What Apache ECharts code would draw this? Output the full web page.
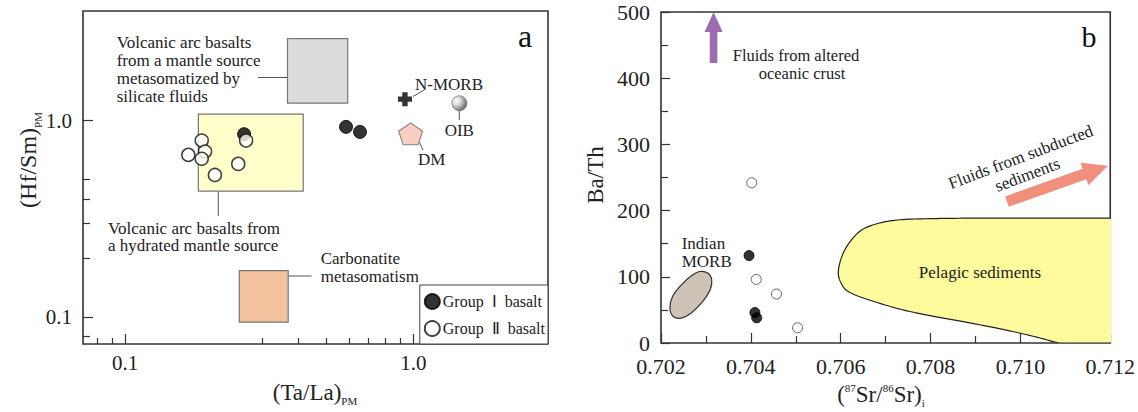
<!DOCTYPE html>
<html><head><meta charset="utf-8">
<script src="https://cdn.jsdelivr.net/npm/echarts@6/dist/echarts.min.js"></script>
<style>html,body{margin:0;padding:0;background:#fff}#c{width:1138px;height:412px}</style>
</head><body><div id="c"></div>
<script>
const FONT = '"Liberation Serif", serif';
// ---------- Panel a data ----------
const groupI_a = [[0.2588,0.853],[0.584,0.929],[0.653,0.876]];
const groupII_a = [[0.1845,0.791],[0.1895,0.696],[0.1658,0.669],[0.1845,0.639],[0.205,0.529],[0.247,0.602],[0.263,0.791]];
const nmorb = [[0.935,1.285]];
const oib = [[1.444,1.226]];
const dm = [[0.978,0.856]];
const boxSilicate = [0.366,0.592,1.226,2.61];
const boxHydrated = [0.1796,0.415,0.4375,1.078];
const boxCarbonatite = [0.249,0.368,0.0943,0.1726];
const xRangeA = [0.0715, 2.93];
const yRangeA = [0.073, 3.61];
const xMajorA = [0.1, 1];
const xMinorA = [0.08,0.09,0.3,0.4,0.5,0.6,0.7,0.8,0.9];
const yMajorA = [0.1, 1];
const yMinorA = [0.08,0.2,0.3,0.4,0.5];
// ---------- Panel b data ----------
const groupI_b = [[0.70396,132],[0.70409,46],[0.70413,38]];
const groupII_b = [[0.70402,242],[0.70412,96],[0.70457,74],[0.70504,23]];
const indianMorb = [[0.702858,108.0],[0.703041,105.6],[0.703129,95.5],[0.703094,80.4],[0.702931,62.7],[0.702675,45.2],[0.702455,37.7],[0.702271,40.1],[0.702198,52.8],[0.702257,70.3],[0.702455,87.9],[0.702675,101.5]];
const pelagicCurve = [[0.712,188.7],[0.7095,188.7],[0.70814,188.0],[0.70726,185.8],[0.70671,178.2],[0.70638,166.1],[0.70609,140.5],[0.70595,110.6],[0.70601,90.5],[0.70623,75.4],[0.70697,57.8],[0.70770,45.2],[0.70909,27.6],[0.71005,14.0],[0.71085,0]];
const pelagicCorners = [[0.7125,0],[0.7125,188.7]];
const arrowAOC = [[0.70317,423],[0.70317,500]];
const arrowSed = [[0.7097,213.6],[0.71195,267.9]];
const xRangeB = [0.702, 0.712];
const yRangeB = [0, 500];

const GROUP1 = 'Group\u2002Ⅰ\u2002basalt', GROUP2 = 'Group\u2002Ⅱ\u2002basalt';

function catmull(pts, n) {
  const out = [];
  for (let i = 0; i < pts.length - 1; i++) {
    const p0 = pts[Math.max(i - 1, 0)], p1 = pts[i], p2 = pts[i + 1], p3 = pts[Math.min(i + 2, pts.length - 1)];
    for (let k = 0; k < n; k++) {
      const t = k / n, t2 = t * t, t3 = t2 * t;
      out.push([0, 1].map(j => 0.5 * ((2 * p1[j]) + (-p0[j] + p2[j]) * t + (2 * p0[j] - 5 * p1[j] + 4 * p2[j] - p3[j]) * t2 + (-p0[j] + 3 * p1[j] - 3 * p2[j] + p3[j]) * t3)));
    }
  }
  out.push(pts[pts.length - 1]);
  return out;
}
function arrowPts(a, b, sh, hh, hl) {
  const dx = b[0] - a[0], dy = b[1] - a[1], L = Math.hypot(dx, dy);
  const ux = dx / L, uy = dy / L, nx = -uy, ny = ux;
  const bx = b[0] - ux * hl, by = b[1] - uy * hl;
  return [[a[0] + nx * sh, a[1] + ny * sh], [bx + nx * sh, by + ny * sh], [bx + nx * hh, by + ny * hh], b,
          [bx - nx * hh, by - ny * hh], [bx - nx * sh, by - ny * sh], [a[0] - nx * sh, a[1] - ny * sh]];
}
function rectSeries(box, fill) {
  return { type: 'custom', xAxisIndex: 0, yAxisIndex: 0, data: [box], silent: true, z: 1,
    encode: { x: [0, 1], y: [2, 3] },
    renderItem: (p, api) => {
      const a = api.coord([api.value(0), api.value(3)]), b = api.coord([api.value(1), api.value(2)]);
      return { type: 'rect', shape: { x: a[0], y: a[1], width: b[0] - a[0], height: b[1] - a[1] },
        style: { fill: fill, stroke: '#777', lineWidth: 1.2 } };
    } };
}
function txt(x, y, text, size, extra) {
  return Object.assign({ type: 'text', x: x, y: y, z: 100,
    style: Object.assign({ text: text, fontFamily: FONT, fontSize: size, fill: '#222', align: 'center', verticalAlign: 'middle' }, extra || {}) });
}
function ln(x1, y1, x2, y2) {
  return { type: 'line', z: 100, shape: { x1: x1, y1: y1, x2: x2, y2: y2 }, style: { stroke: '#555', lineWidth: 1 } };
}

const chart = echarts.init(document.getElementById('c'), null, { renderer: 'svg' });
const labelStyle = { fontFamily: FONT, color: '#222' };
const logCommon = { type: 'log', logBase: 10, axisLine: { show: false }, splitLine: { show: false } };
const tickLine = { color: '#333', width: 1.2 };
const subRich = { s: { fontFamily: FONT, fontSize: 11, fill: '#222', verticalAlign: 'bottom', padding: [0, 0, -3, 0] } };

const option = {
  animation: false,
  backgroundColor: '#fff',
  grid: [
    { left: 83, top: 11, width: 465, height: 333, show: true, borderColor: '#333', borderWidth: 1.6 },
    { left: 661, top: 12, width: 455, height: 331, show: true, borderColor: '#333', borderWidth: 1.6 }
  ],
  xAxis: [
    Object.assign({}, logCommon, { gridIndex: 0, position: 'bottom', min: xRangeA[0], max: xRangeA[1],
      axisTick: { inside: true, length: 10, customValues: xMajorA, lineStyle: tickLine },
      axisLabel: Object.assign({ fontSize: 21, margin: 8, customValues: xMajorA, formatter: v => v > 0.5 ? '1.0' : '0.1' }, labelStyle) }),
    Object.assign({}, logCommon, { gridIndex: 0, position: 'bottom', min: xRangeA[0], max: xRangeA[1],
      axisTick: { inside: true, length: 6, customValues: xMinorA, lineStyle: tickLine },
      axisLabel: { show: false } }),
    { type: 'value', gridIndex: 1, min: xRangeB[0], max: xRangeB[1], interval: 0.002,
      axisLine: { show: false }, splitLine: { show: false },
      axisTick: { inside: true, length: 10, lineStyle: tickLine },
      minorTick: { show: true, splitNumber: 2, length: 7, lineStyle: tickLine },
      axisLabel: Object.assign({ fontSize: 22, lineHeight: 20, margin: 13, formatter: v => v.toFixed(3) }, labelStyle) }
  ],
  yAxis: [
    Object.assign({}, logCommon, { gridIndex: 0, position: 'left', min: yRangeA[0], max: yRangeA[1],
      axisTick: { inside: true, length: 10, customValues: yMajorA, lineStyle: tickLine },
      axisLabel: Object.assign({ fontSize: 21, margin: 11, customValues: yMajorA, formatter: v => v > 0.5 ? '1.0' : '0.1' }, labelStyle) }),
    Object.assign({}, logCommon, { gridIndex: 0, position: 'left', min: yRangeA[0], max: yRangeA[1],
      axisTick: { inside: true, length: 7, customValues: yMinorA, lineStyle: tickLine },
      axisLabel: { show: false } }),
    { type: 'value', gridIndex: 1, min: yRangeB[0], max: yRangeB[1], interval: 100,
      axisLine: { show: false }, splitLine: { show: false },
      axisTick: { inside: true, length: 9, lineStyle: tickLine },
      minorTick: { show: true, splitNumber: 2, length: 7, lineStyle: tickLine },
      axisLabel: Object.assign({ fontSize: 22, lineHeight: 20, margin: 11 }, labelStyle) }
  ],
  legend: {
    data: [GROUP1, GROUP2], orient: 'vertical', right: 590, bottom: 68,
    backgroundColor: '#fff', borderColor: '#444', borderWidth: 1,
    padding: [8, 3, 7, 4], itemGap: 10, itemWidth: 15, itemHeight: 15,
    textStyle: { fontFamily: FONT, fontSize: 16, color: '#222', padding: [0, 0, 0, -2] },
    selectedMode: false
  },
  series: [
    rectSeries(boxSilicate, '#dcdcdc'),
    rectSeries(boxHydrated, '#ffffcc'),
    rectSeries(boxCarbonatite, '#f3c29e'),
    { name: GROUP1, type: 'scatter', xAxisIndex: 0, yAxisIndex: 0, data: groupI_a, symbol: 'circle', symbolSize: 13, z: 3,
      itemStyle: { color: '#000', borderColor: '#000', borderWidth: 1 } },
    { name: GROUP2, type: 'scatter', xAxisIndex: 0, yAxisIndex: 0, data: groupII_a, symbol: 'circle', symbolSize: 13, z: 4,
      itemStyle: { color: '#fff', borderColor: '#111', borderWidth: 1.5 } },
    { type: 'scatter', xAxisIndex: 0, yAxisIndex: 0, data: nmorb, symbol: 'path://M4,0H9V4H13V9H9V13H4V9H0V4H4Z', symbolSize: 14, z: 4,
      itemStyle: { color: '#000' } },
    { type: 'scatter', xAxisIndex: 0, yAxisIndex: 0, data: oib, symbol: 'circle', symbolSize: 15, z: 4,
      itemStyle: { color: new echarts.graphic.RadialGradient(0.3, 0.35, 0.8, [{ offset: 0, color: '#ffffff' }, { offset: 0.35, color: '#d0d0d0' }, { offset: 1, color: '#2a2a2a' }]), borderColor: '#666', borderWidth: 0.8 } },
    { type: 'scatter', xAxisIndex: 0, yAxisIndex: 0, data: dm, symbol: 'path://M50,0L97.55,34.55L79.39,90.45L20.61,90.45L2.45,34.55Z', symbolSize: [24, 22], z: 4,
      itemStyle: { color: '#f6c3b3', borderColor: '#666', borderWidth: 1 } },
    // panel b
    { type: 'custom', xAxisIndex: 2, yAxisIndex: 2, data: [0], silent: true, z: 1, clip: true,
      renderItem: (p, api) => {
        const curve = catmull(pelagicCurve.map(d => api.coord(d)), 12);
        const pts = curve.concat(pelagicCorners.map(d => api.coord(d)));
        return { type: 'polygon', shape: { points: pts }, style: { fill: '#fefb9c', stroke: '#222', lineWidth: 1.2 } };
      } },
    { type: 'custom', xAxisIndex: 2, yAxisIndex: 2, data: [0], silent: true, z: 1,
      renderItem: (p, api) => ({ type: 'polygon', shape: { points: indianMorb.map(d => api.coord(d)), smooth: 0.4 },
        style: { fill: '#cdc3b6', stroke: '#333', lineWidth: 1.2 } }) },
    { type: 'custom', xAxisIndex: 2, yAxisIndex: 2, data: [0], silent: true, z: 2,
      renderItem: (p, api) => ({ type: 'polygon', shape: { points: arrowPts(api.coord(arrowAOC[0]), api.coord(arrowAOC[1]), 3.8, 9, 20) },
        style: { fill: '#9d6bb0' } }) },
    { type: 'custom', xAxisIndex: 2, yAxisIndex: 2, data: [0], silent: true, z: 2,
      renderItem: (p, api) => ({ type: 'polygon', shape: { points: arrowPts(api.coord(arrowSed[0]), api.coord(arrowSed[1]), 5.5, 12, 25) },
        style: { fill: '#f08f7c' } }) },
    { name: GROUP1, type: 'scatter', xAxisIndex: 2, yAxisIndex: 2, data: groupI_b, symbol: 'circle', symbolSize: 10, z: 3,
      itemStyle: { color: '#000', borderColor: '#000', borderWidth: 1 } },
    { name: GROUP2, type: 'scatter', xAxisIndex: 2, yAxisIndex: 2, data: groupII_b, symbol: 'circle', symbolSize: 10, z: 3,
      itemStyle: { color: '#fff', borderColor: '#444', borderWidth: 1 } }
  ],
  graphic: [
    // panel a annotations
    txt(116.7, 33.5, 'Volcanic arc basalts\nfrom a mantle source\nmetasomatized by\nsilicate fluids', 17, { align: 'left', verticalAlign: 'top', lineHeight: 18 }),
    ln(258, 77.5, 287, 77.5),
    txt(108, 219.5, 'Volcanic arc basalts from\na hydrated mantle source', 17, { align: 'left', verticalAlign: 'top', lineHeight: 17 }),
    ln(218.3, 191.3, 218.3, 216),
    txt(320.7, 249.3, 'Carbonatite\nmetasomatism', 17, { align: 'left', verticalAlign: 'top', lineHeight: 18 }),
    ln(288.3, 276, 311.7, 276),
    txt(449, 84, 'N-MORB', 17),
    ln(413, 96.5, 424, 90),
    txt(459.3, 130, 'OIB', 17),
    ln(459.3, 111, 459.3, 120),
    txt(431.7, 159.5, 'DM', 17),
    ln(419.5, 142.5, 423, 150),
    txt(525, 36, 'a', 32, { fill: '#111' }),
    // panel a axis titles
    txt(315, 392, '(Ta/La){s|PM}', 23, { rich: subRich }),
    Object.assign(txt(28, 160, '(Hf/Sm){s|PM}', 24, { rich: subRich }), { rotation: Math.PI / 2 }),
    // panel b annotations
    txt(796, 55, 'Fluids from altered', 16.5),
    txt(802, 73, 'oceanic crust', 16.5),
    Object.assign(txt(1024, 166, 'Fluids from subducted\nsediments', 17, { lineHeight: 19 }), { rotation: 0.361 }),
    txt(980, 272.7, 'Pelagic sediments', 17),
    txt(681.7, 234.3, 'Indian\nMORB', 17, { align: 'left', verticalAlign: 'top', lineHeight: 18 }),
    txt(1089, 36, 'b', 30, { fill: '#111' }),
    // panel b axis titles
    txt(881, 394, '({p|87}Sr/{p|86}Sr){s|i}', 23, { rich: { p: { fontFamily: FONT, fontSize: 11, fill: '#222', verticalAlign: 'top' }, s: subRich.s } }),
    Object.assign(txt(595, 175, 'Ba/Th', 23), { rotation: Math.PI / 2 })
  ]
};
chart.setOption(option);
</script></body></html>
